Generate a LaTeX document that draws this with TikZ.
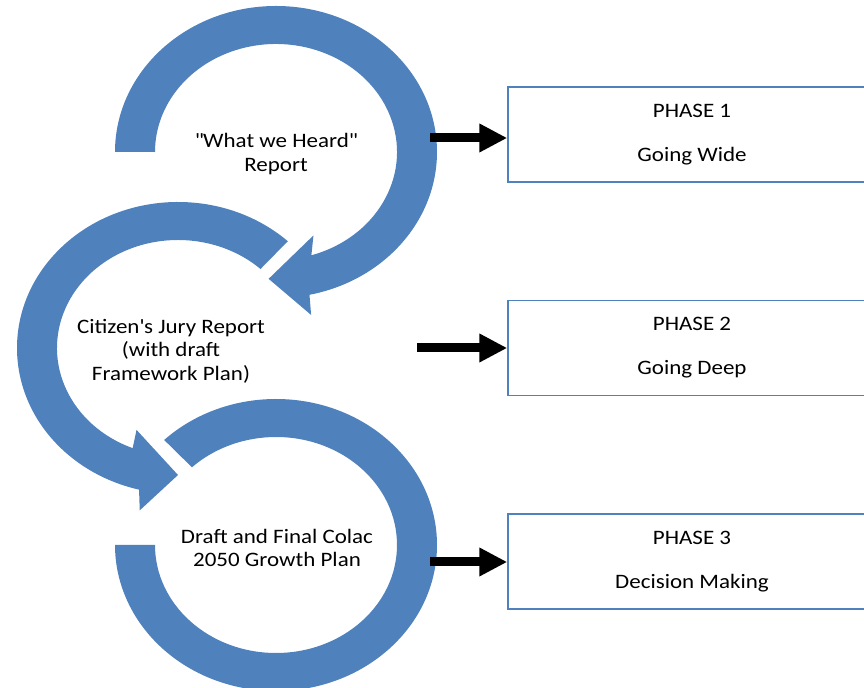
\documentclass[tikz,border=0pt]{standalone}
\usepackage{fontspec}
\setmainfont{Carlito}[FakeStretch=1.12]
\usetikzlibrary{arrows.meta, positioning}
\definecolor{ringblue}{RGB}{79, 129, 189}

\begin{document}
\begin{tikzpicture}[x=1bp, y=1bp,
    ring/.style={fill=ringblue},
    ringtext/.style={align=center, font=\fontsize{20.6}{23.5}\selectfont},
    phasebox/.style={draw=ringblue, line width=1.5bp, minimum width=368bp,
                     minimum height=95bp, align=center,
                     font=\fontsize{20.6}{23.5}\selectfont},
    arr/.style={-{Triangle[length=28bp, width=27bp]}, line width=9bp, black}
  ]
    \useasboundingbox (0,0) rectangle (864,688);

    % circular arrows
    \fill[ring, shift={(276,536)}] (180:161 and 146)
      arc[start angle=180, end angle=-78, x radius=161, y radius=146]
      -- (-79:184 and 166) -- (-93:141 and 127) -- (-68:100 and 90) -- (-73:121 and 108)
      arc[start angle=-73, end angle=180, x radius=121, y radius=108] -- cycle;
    \fill[ring, shift={(178,340)}] (47:161 and 146)
      arc[start angle=47, end angle=256, x radius=161, y radius=146]
      -- (258:184 and 166) -- (270:141 and 127) -- (245.5:100 and 90) -- (248:121 and 108)
      arc[start angle=248, end angle=47, x radius=121, y radius=108] -- cycle;
    \fill[ring, shift={(276,143)}] (134:161 and 146)
      arc[start angle=134, end angle=-180, x radius=161, y radius=146]
      -- (180:121 and 108)
      arc[start angle=-180, end angle=134, x radius=121, y radius=108] -- cycle;

    \node[ringtext] (heard) at (276,534) {\textquotedbl What we Heard\textquotedbl\\Report};
    \node[ringtext] (jury) at (171,337) {Citizen\textquotesingle s Jury Report\\(with draft\\Framework Plan)};
    \node[ringtext] (growth) at (277,140) {Draft and Final Colac\\2050 Growth Plan};

    \node[phasebox] (phase1) at (692,553.5) {PHASE 1\\[20.5bp]Going Wide};
    \node[phasebox] (phase2) at (692,340) {PHASE 2\\[20.5bp]Going Deep};
    \node[phasebox] (phase3) at (692,126.5) {PHASE 3\\[20.5bp]Decision Making};

    \coordinate (tail1) at (430,550);
    \coordinate (tail2) at (417,340);
    \coordinate (tail3) at (430,126);
    \draw[arr] (tail1) -- (tail1 -| phase1.west);
    \draw[arr] (tail2) -- (tail2 -| phase2.west);
    \draw[arr] (tail3) -- (tail3 -| phase3.west);
  \end{tikzpicture}
\end{document}
